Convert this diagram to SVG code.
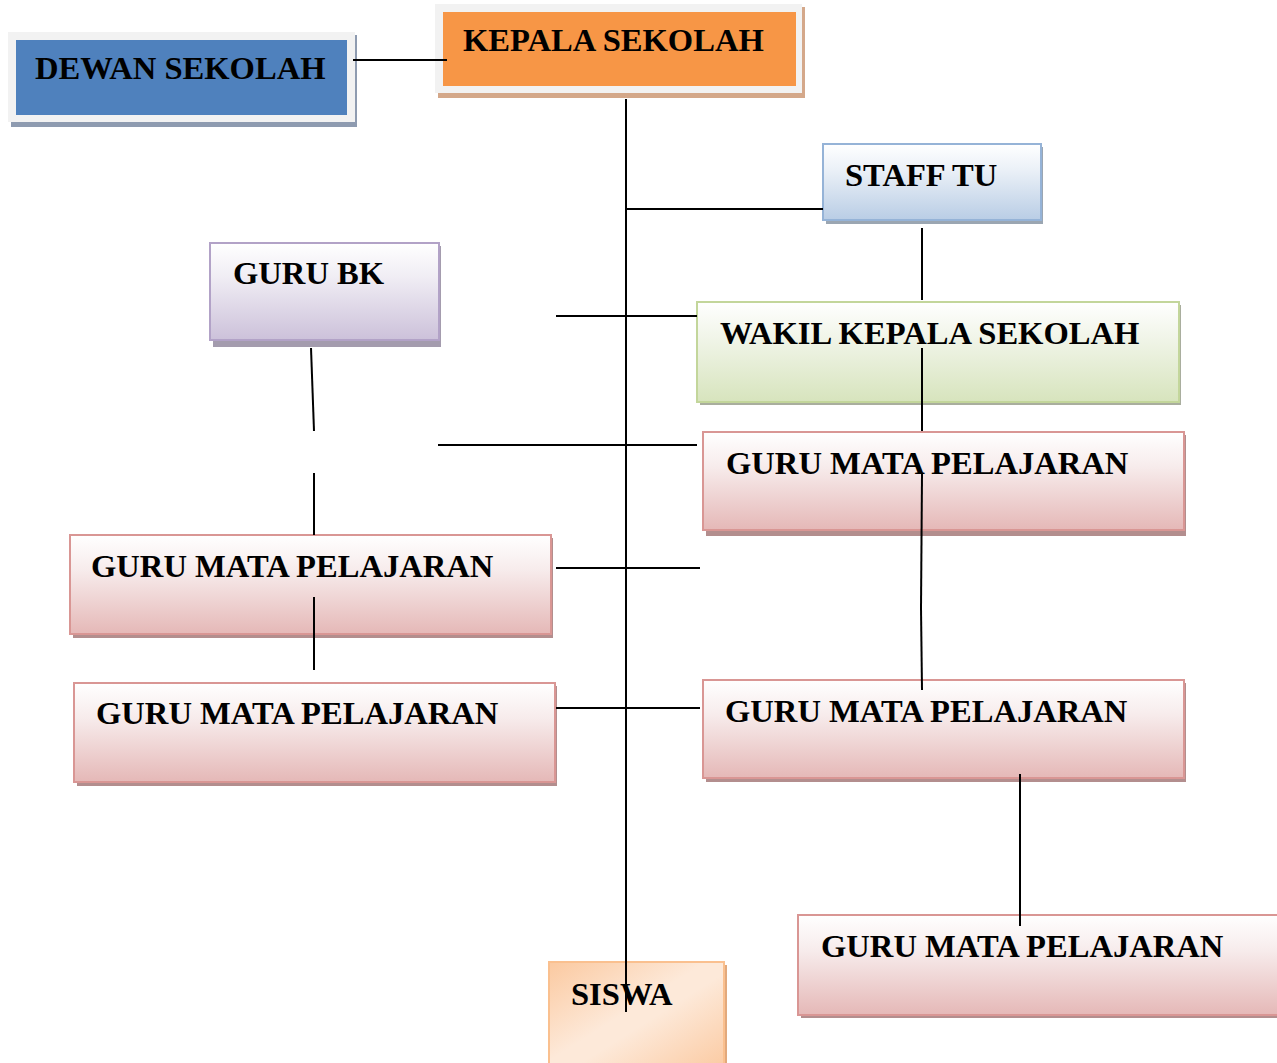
<svg xmlns="http://www.w3.org/2000/svg" width="1277" height="1063" viewBox="0 0 1277 1063">
<defs>
<linearGradient id="gPink" x1="0" y1="0" x2="0" y2="1"><stop offset="0" stop-color="#ffffff"/><stop offset="0.35" stop-color="#f7ecec"/><stop offset="1" stop-color="#e5b8b7"/></linearGradient>
<linearGradient id="gBlue" x1="0" y1="0" x2="0" y2="1"><stop offset="0" stop-color="#ffffff"/><stop offset="0.35" stop-color="#eaf0f7"/><stop offset="1" stop-color="#b9cde5"/></linearGradient>
<linearGradient id="gPurple" x1="0" y1="0" x2="0" y2="1"><stop offset="0" stop-color="#ffffff"/><stop offset="0.35" stop-color="#f0edf4"/><stop offset="1" stop-color="#ccc1da"/></linearGradient>
<linearGradient id="gGreen" x1="0" y1="0" x2="0" y2="1"><stop offset="0" stop-color="#ffffff"/><stop offset="0.35" stop-color="#f1f5e9"/><stop offset="1" stop-color="#d7e4bd"/></linearGradient>
<linearGradient id="gPeach" x1="0" y1="0" x2="1" y2="1"><stop offset="0" stop-color="#fbc9a0"/><stop offset="0.45" stop-color="#fde9d9"/><stop offset="0.55" stop-color="#fde9d9"/><stop offset="1" stop-color="#fbc9a0"/></linearGradient>
</defs>
<style>
text{font-family:"Liberation Serif","Times New Roman",serif;font-weight:bold;font-size:32.6px;fill:#000}
.pink{fill:url(#gPink);stroke:#d99694;stroke-width:2}
.pinksh{fill:#b38e8e}
.ln{stroke:#000;stroke-width:2;fill:none}
</style>
<rect width="1277" height="1063" fill="#fff"/>

<g id="dewan">
<rect x="11" y="35" width="346" height="92" fill="#8e9bb0"/>
<rect x="8" y="32" width="347" height="90" fill="#f2f2f2"/>
<rect x="16" y="40" width="331" height="75" fill="#4f81bd"/>
<text x="35" y="79">DEWAN SEKOLAH</text>
</g>

<g id="kepala">
<rect x="438" y="7" width="367" height="91" fill="#d4a88a"/>
<rect x="435" y="4" width="367" height="89" fill="#f2f2f2"/>
<rect x="443" y="12" width="353" height="74" fill="#f79646"/>
<text x="463" y="51">KEPALA SEKOLAH</text>
</g>

<g id="staff">
<rect x="826" y="147" width="217" height="77" fill="#9ba6b2"/>
<rect x="823" y="144" width="218" height="76" fill="url(#gBlue)" stroke="#95b3d7" stroke-width="2"/>
<text x="845" y="186">STAFF TU</text>
</g>

<g id="gurubk">
<rect x="213" y="246" width="228" height="101" fill="#a49cae"/>
<rect x="210" y="243" width="229" height="97" fill="url(#gPurple)" stroke="#b2a2c7" stroke-width="2"/>
<text x="233" y="284">GURU BK</text>
</g>

<g id="wakil">
<rect x="700" y="305" width="481" height="100" fill="#a9ae9e"/>
<rect x="697" y="302" width="482" height="100" fill="url(#gGreen)" stroke="#c3d69b" stroke-width="2"/>
<text x="720" y="344">WAKIL KEPALA SEKOLAH</text>
</g>

<g id="gmp-r1">
<rect class="pinksh" x="706" y="435" width="480" height="101"/>
<rect class="pink" x="703" y="432" width="481" height="98"/>
<text x="726" y="474">GURU MATA PELAJARAN</text>
</g>

<g id="gmp-l1">
<rect class="pinksh" x="73" y="538" width="480" height="100"/>
<rect class="pink" x="70" y="535" width="481" height="99"/>
<text x="91" y="577">GURU MATA PELAJARAN</text>
</g>

<g id="gmp-l2">
<rect class="pinksh" x="77" y="686" width="480" height="100"/>
<rect class="pink" x="74" y="683" width="481" height="99"/>
<text x="96" y="724">GURU MATA PELAJARAN</text>
</g>

<g id="gmp-r2">
<rect class="pinksh" x="706" y="683" width="480" height="99"/>
<rect class="pink" x="703" y="680" width="481" height="98"/>
<text x="725" y="722">GURU MATA PELAJARAN</text>
</g>

<g id="gmp-b">
<rect class="pinksh" x="801" y="918" width="480" height="100"/>
<rect class="pink" x="798" y="915" width="490" height="100"/>
<text x="821" y="957">GURU MATA PELAJARAN</text>
</g>

<g id="siswa">
<rect x="552" y="965" width="175" height="110" fill="#e2a97c"/>
<rect x="549" y="962" width="175" height="110" fill="url(#gPeach)" stroke="#fac08f" stroke-width="2"/>
<text x="571" y="1005">SISWA</text>
</g>

<g id="connectors">
<line class="ln" x1="353" y1="60" x2="447" y2="60"/>
<line class="ln" x1="626" y1="99" x2="626" y2="1012"/>
<line class="ln" x1="626" y1="209" x2="823" y2="209"/>
<line class="ln" x1="922" y1="228" x2="922" y2="300"/>
<line class="ln" x1="556" y1="316" x2="697" y2="316"/>
<line class="ln" x1="922" y1="348" x2="922" y2="431"/>
<line class="ln" x1="922" y1="474" x2="921" y2="608"/>
<line class="ln" x1="921" y1="608" x2="922" y2="690"/>
<line class="ln" x1="438" y1="445" x2="697" y2="445"/>
<line class="ln" x1="311" y1="348" x2="314" y2="431"/>
<line class="ln" x1="314" y1="473" x2="314" y2="535"/>
<line class="ln" x1="556" y1="568" x2="700" y2="568"/>
<line class="ln" x1="314" y1="597" x2="314" y2="670"/>
<line class="ln" x1="556" y1="708" x2="700" y2="708"/>
<line class="ln" x1="1020" y1="774" x2="1020" y2="926"/>
</g>
</svg>
